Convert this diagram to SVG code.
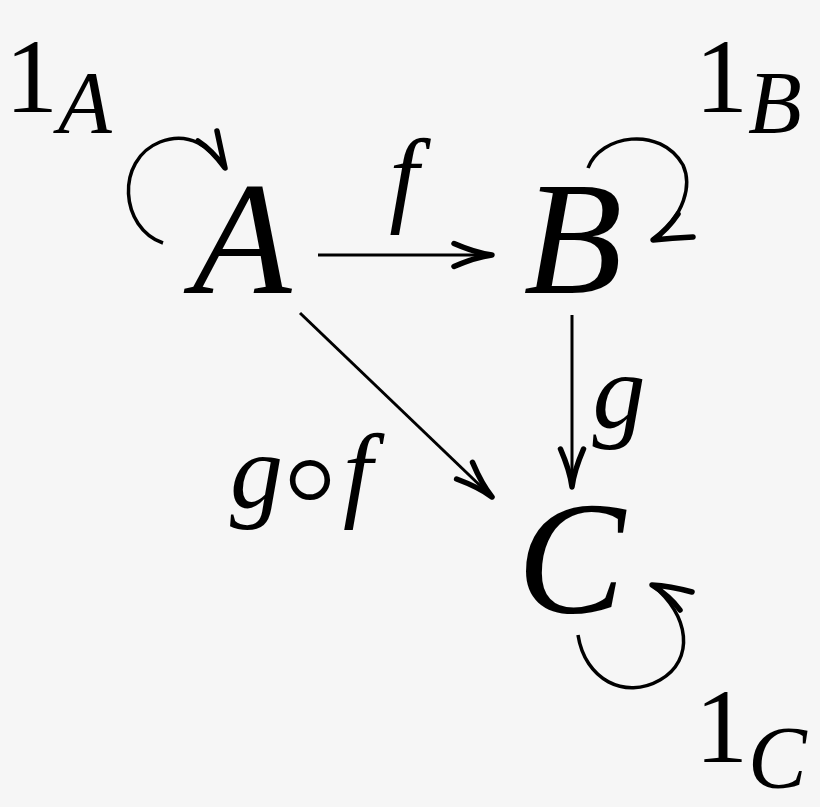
<svg xmlns="http://www.w3.org/2000/svg" width="820" height="807" viewBox="0 0 820 807">
<style>
.m{font-family:"Liberation Serif",serif;font-style:italic;fill:#000}
.r{font-family:"Liberation Serif","DejaVu Serif",serif;font-style:normal;fill:#000}
.node{font-size:162px}
.lab{font-size:106px}
.sub{font-size:88px}
.ring{font-family:"DejaVu Sans",sans-serif;font-weight:200;font-style:normal;font-size:150px}
.ln{fill:none;stroke:#000;stroke-width:3}
.lp{fill:none;stroke:#000;stroke-width:3.5}
.ah{fill:none;stroke:#000;stroke-width:5.5;stroke-linecap:round;stroke-linejoin:round}
</style>
<defs>
<marker id="to" markerUnits="userSpaceOnUse" viewBox="-42 -16 46 32" markerWidth="46" markerHeight="32" refX="0" refY="0" orient="auto" overflow="visible">
<path class="ah" d="M-38,-11.5 Q-16,-2 0,0 Q-16,2 -38,11.5"/>
</marker>
</defs>
<rect width="820" height="807" fill="#f6f6f6"/>
<g id="connectors">
<line class="ln" x1="318" y1="255" x2="492" y2="255" marker-end="url(#to)"/>
<line class="ln" x1="572" y1="315" x2="572" y2="487" marker-end="url(#to)"/>
<line class="ln" x1="300" y1="313" x2="492" y2="497" marker-end="url(#to)"/>
<path class="lp" d="M163,243 C120,228 115,160 160,142 C190,130 210,148 225,168"/>
<path class="ah" d="M217,131 Q221,150 225,168 Q212,150 198,141"/>
<path class="lp" d="M588,168 C600,135 660,125 683,165 C692,185 685,215 653,240"/>
<path class="ah" d="M693,237 Q672,238 653,240 Q668,229 678,214"/>
<path class="lp" d="M578,635 C585,680 625,700 660,680 C695,660 690,615 652,585"/>
<path class="ah" d="M692,592 Q670,586 652,585 Q670,596 680,610"/>
</g>
<g id="node-A"><text class="m node" x="242" y="293" text-anchor="middle">A</text></g>
<g id="node-B"><text class="m node" x="573" y="293" text-anchor="middle">B</text></g>
<g id="node-C"><text class="m node" x="571" y="613" text-anchor="middle">C</text></g>
<g id="label-f"><text class="m lab" x="404" y="212" text-anchor="middle">f</text></g>
<g id="label-g"><text class="m lab" x="619" y="427" text-anchor="middle">g</text></g>
<g id="label-gf"><text class="lab" x="230" y="507"><tspan class="m">g</tspan><tspan class="ring" x="263" y="527">∘</tspan><tspan class="m" x="343" y="507">f</tspan></text></g>
<g id="label-1A"><text x="5" y="112"><tspan class="r lab">1</tspan><tspan class="m sub" dy="20">A</tspan></text></g>
<g id="label-1B"><text x="695" y="112"><tspan class="r lab">1</tspan><tspan class="m sub" dy="20">B</tspan></text></g>
<g id="label-1C"><text x="695" y="762"><tspan class="r lab">1</tspan><tspan class="m sub" dy="25">C</tspan></text></g>
</svg>
